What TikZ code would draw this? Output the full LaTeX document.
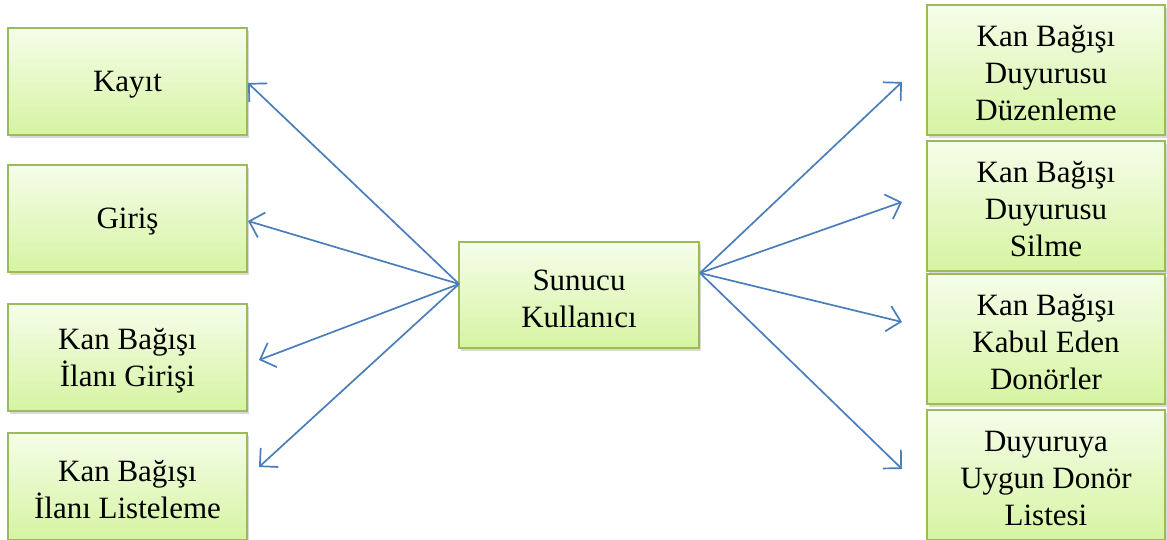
\documentclass[tikz,border=0pt]{standalone}
\usepackage{fontspec}
\setmainfont{Liberation Serif}
\usetikzlibrary{arrows.meta,shadows}
\definecolor{boxborder}{HTML}{9BBB59}
\definecolor{boxtop}{HTML}{F5FDE9}
\definecolor{boxbot}{HTML}{D6F4A2}
\definecolor{arrowblue}{HTML}{4A7EBB}
\tikzset{
  box/.style={draw=boxborder, line width=2pt, top color=boxtop, bottom color=boxbot,
    inner sep=0pt,
    drop shadow={shadow xshift=2pt, shadow yshift=-3pt, opacity=0.25, fill=black!60}},
  txt/.style={align=center, inner sep=0pt, font=\fontsize{31}{37}\selectfont, yshift=-3.5pt},
  lbox/.style={box, minimum width=239pt, minimum height=107pt},
  rbox/.style={box, minimum width=238pt, minimum height=130pt},
  arr/.style={draw=arrowblue, line width=1.7pt, -{Straight Barb[length=13pt, width=26pt, line width=1.7pt]}}
}
\begin{document}
\begin{tikzpicture}[x=1pt,y=-1pt]
\useasboundingbox (0,0) rectangle (1167,540);
\begin{scope}
\clip (0,0) rectangle (1167,540);
\node[lbox, label={[txt]center:{Kayıt}}] (kayit) at (127.5,81.5) {};
\node[lbox, label={[txt]center:{Giriş}}] (giris) at (127.5,218.5) {};
\node[lbox, label={[txt]center:{Kan Bağışı\\İlanı Girişi}}] (ilangiris) at (127.5,357.5) {};
\node[lbox, label={[txt]center:{Kan Bağışı\\İlanı Listeleme}}] (ilanliste) at (127.5,486) {};
\node[box, minimum width=240pt, minimum height=106pt, label={[txt]center:{Sunucu\\Kullanıcı}}] (sunucu) at (579,295) {};
\node[rbox, label={[txt]center:{Kan Bağışı\\Duyurusu\\Düzenleme}}] (duzen) at (1046,70) {};
\node[rbox, label={[txt]center:{Kan Bağışı\\Duyurusu\\Silme}}] (silme) at (1046,206) {};
\node[rbox, label={[txt]center:{Kan Bağışı\\Kabul Eden\\Donörler}}] (kabul) at (1046,339) {};
\node[rbox, label={[txt]center:{Duyuruya\\Uygun Donör\\Listesi}}] (uygun) at (1046,475) {};
\end{scope}
\coordinate (sl) at (459,284);
\coordinate (sr) at (700,273);
\coordinate (t1) at (248,83);
\coordinate (t2) at (248,221);
\coordinate (t3) at (259,360);
\coordinate (t4) at (259,467);
\coordinate (u1) at (902,82);
\coordinate (u2) at (902,202);
\coordinate (u3) at (902,322);
\coordinate (u4) at (902,469);
\draw[arr] (sl) -- (t1);
\draw[arr] (sl) -- (t2);
\draw[arr] (sl) -- (t3);
\draw[arr] (sl) -- (t4);
\draw[arr] (sr) -- (u1);
\draw[arr] (sr) -- (u2);
\draw[arr] (sr) -- (u3);
\draw[arr] (sr) -- (u4);
\end{tikzpicture}
\end{document}
